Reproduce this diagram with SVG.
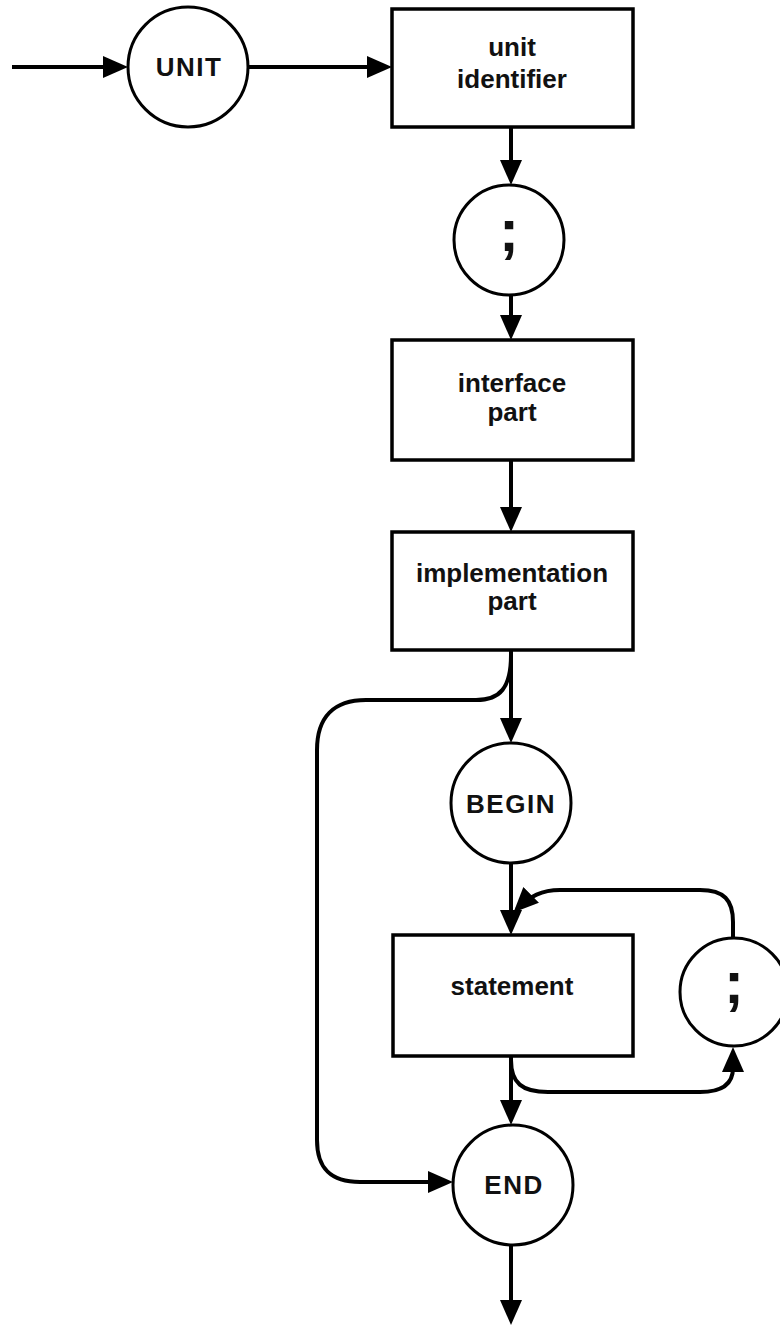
<svg xmlns="http://www.w3.org/2000/svg" width="780" height="1327" viewBox="0 0 780 1327">
<defs>
<style>
.box{fill:#fff;stroke:#000;stroke-width:3.5}
.circ{fill:#fff;stroke:#000;stroke-width:3}
.lbl{font-family:"Liberation Sans",Arial,sans-serif;font-weight:bold;font-size:26px;fill:#111;text-anchor:middle}
.kw{letter-spacing:1.5px}
.semi{font-family:"Liberation Sans",Arial,sans-serif;font-weight:bold;font-size:60px;fill:#111;text-anchor:middle}
.conn{fill:none;stroke:#000;stroke-width:4;marker-end:url(#ah)}
</style>
<marker id="ah" markerUnits="userSpaceOnUse" markerWidth="26" markerHeight="22" refX="20" refY="11" orient="auto" viewBox="0 0 26 22">
<path d="M0,0 L25,11 L0,22 z" fill="#000"/>
</marker>
</defs>
<rect width="780" height="1327" fill="#fff"/>
<g id="connectors">
<path class="conn" d="M12,67 H123"/>
<path class="conn" d="M248,67 H387"/>
<path class="conn" d="M511,127 V180"/>
<path class="conn" d="M511,295 V335"/>
<path class="conn" d="M511,460 V527"/>
<path class="conn" d="M511,650 V738"/>
<path class="conn" d="M511,655 C511,688 500,700 476,700 H366 C334,700 317,717 317,750 V1140 C317,1168 330,1182 360,1182 H448"/>
<path class="conn" d="M511,863 V930"/>
<path class="conn" d="M511,1056 V1120"/>
<path class="conn" d="M511,1245 V1320"/>
<path class="conn" d="M511,1060 C511,1083 522,1092 548,1092 H700 C724,1092 733,1082 733,1068 V1052"/>
<path class="conn" d="M733,938 V922 C733,900 724,890 700,890 H560 C542,890 530,896 517,909"/>
</g>
<g id="n-unit">
<circle class="circ" cx="188" cy="67" r="60"/>
<text class="lbl kw" x="189" y="76">UNIT</text>
</g>
<g id="n-unit-identifier">
<rect class="box" x="392" y="9" width="241" height="118"/>
<text class="lbl" x="512" y="56">unit</text>
<text class="lbl" x="512" y="88">identifier</text>
</g>
<g id="n-semi1">
<circle class="circ" cx="509" cy="240" r="55"/>
<text class="semi" x="509" y="251">;</text>
</g>
<g id="n-interface">
<rect class="box" x="392" y="340" width="241" height="120"/>
<text class="lbl" x="512" y="392">interface</text>
<text class="lbl" x="512" y="421">part</text>
</g>
<g id="n-implementation">
<rect class="box" x="392" y="532" width="241" height="118"/>
<text class="lbl" x="512" y="582">implementation</text>
<text class="lbl" x="512" y="610">part</text>
</g>
<g id="n-begin">
<circle class="circ" cx="511" cy="803" r="60"/>
<text class="lbl kw" x="511" y="813">BEGIN</text>
</g>
<g id="n-statement">
<rect class="box" x="393" y="935" width="240" height="121"/>
<text class="lbl" x="512" y="995">statement</text>
</g>
<g id="n-semi2">
<circle class="circ" cx="734" cy="992" r="54"/>
<text class="semi" x="734" y="1003">;</text>
</g>
<g id="n-end">
<circle class="circ" cx="513" cy="1185" r="60"/>
<text class="lbl kw" x="514" y="1194">END</text>
</g>
</svg>
